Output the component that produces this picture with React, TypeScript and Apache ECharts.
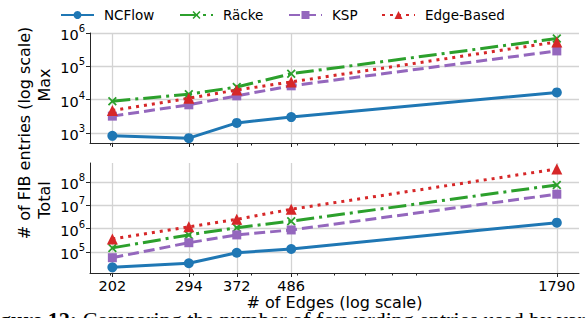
import React, { useEffect, useRef } from 'react';
import * as echarts from 'echarts';

const edges = [202, 294, 372, 486, 1790];
const xMinorTicks = [200, 300, 400, 500, 600, 700, 800, 900];
const seriesNames = ['NCFlow', 'Räcke', 'KSP', 'Edge-Based'];

const maxNCFlow = [820, 700, 2000, 3000, 16500];
const maxRacke = [9000, 14500, 24000, 60000, 680000];
const maxKSP = [3200, 7000, 13000, 26000, 290000];
const maxEdge = [4700, 11000, 19500, 34000, 540000];

const totNCFlow = [22000, 33000, 93000, 135000, 1800000];
const totRacke = [150000, 540000, 1100000, 2100000, 75000000];
const totKSP = [57000, 250000, 540000, 880000, 30000000];
const totEdge = [360000, 1200000, 2500000, 6800000, 360000000];

const topTicks = [1e3, 1e4, 1e5, 1e6];
const bottomTicks = [1e5, 1e6, 1e7, 1e8];

const FONT = 'DejaVu Sans';
const X_PATH =
  'path://M0,1.4L1.4,0L5,3.6L8.6,0L10,1.4L6.4,5L10,8.6L8.6,10L5,6.4L1.4,10L0,8.6L3.6,5Z';

const styles = [
  { color: '#1f77b4', dash: 'solid' as any, symbol: 'circle', size: 10 },
  { color: '#2ca02c', dash: [18, 5, 3, 5], symbol: X_PATH, size: 9 },
  { color: '#9467bd', dash: [11, 5], symbol: 'rect', size: 9 },
  { color: '#d62728', dash: [3, 5], symbol: 'triangle', size: 11 },
];
const legendLefts = [55, 174, 283, 376];

function mkSeries(idx: number, values: number[], grid: number) {
  const s = styles[idx];
  return {
    type: 'line',
    name: seriesNames[idx],
    xAxisIndex: grid,
    yAxisIndex: grid,
    data: edges.map((e, i) => [e, values[i]]),
    symbol: s.symbol,
    symbolSize: s.size,
    showSymbol: true,
    lineStyle: { color: s.color, width: 3, type: s.dash },
    itemStyle: { color: s.color },
    z: 3 + idx,
  };
}

const supFormatter = (v: number) => `{b|10}{s|${Math.round(Math.log10(v))}}`;
const supRich = {
  b: { fontSize: 14.5, fontFamily: FONT, color: '#000', lineHeight: 19, verticalAlign: 'bottom' },
  s: { fontSize: 10, fontFamily: FONT, color: '#000', lineHeight: 10, verticalAlign: 'top' },
};

const axisLineStyle = { color: '#262626', width: 1 };
const gridLine = { show: true, lineStyle: { color: '#d3d3d3', width: 1.3 } };

function xMajor(grid: number, showLabels: boolean) {
  return {
    type: 'log',
    gridIndex: grid,
    min: 181,
    max: 1996,
    position: 'bottom',
    axisLine: { show: true, lineStyle: axisLineStyle },
    axisTick: { show: true, customValues: edges, length: 4, inside: false, lineStyle: axisLineStyle },
    axisLabel: {
      show: showLabels,
      customValues: edges,
      margin: 5,
      fontSize: 14.5,
      fontFamily: FONT,
      color: '#000',
      formatter: (v: number) => String(Math.round(v)),
    },
    splitLine: gridLine,
    minorTick: { show: false },
    name: showLabels ? '# of Edges (log scale)' : '',
    nameLocation: 'middle',
    nameGap: 21,
    nameTextStyle: { fontSize: 16, fontFamily: FONT, color: '#000' },
  };
}

function xMinor(grid: number) {
  return {
    type: 'log',
    gridIndex: grid,
    min: 181,
    max: 1996,
    position: 'bottom',
    axisLine: { show: false },
    axisTick: { show: true, customValues: xMinorTicks, length: 2.5, lineStyle: axisLineStyle },
    axisLabel: { show: false, customValues: xMinorTicks },
    splitLine: { show: false },
  };
}

function yAxis(grid: number, min: number, max: number, ticks: number[]) {
  return {
    type: 'log',
    gridIndex: grid,
    min,
    max,
    axisLine: { show: true, lineStyle: axisLineStyle },
    axisTick: { show: true, customValues: ticks, length: 4, lineStyle: axisLineStyle },
    axisLabel: { customValues: ticks, formatter: supFormatter, rich: supRich, margin: 5 },
    splitLine: gridLine,
    minorTick: { show: false },
  };
}

export default function App() {
  const ref = useRef<HTMLDivElement>(null);
  useEffect(() => {
    if (!ref.current) return;
    const chart = echarts.init(ref.current, undefined, { renderer: 'svg' });
    const option: any = {
      animation: false,
      backgroundColor: '#fff',
      legend: seriesNames.map((n, i) => ({
        data: [n],
        left: legendLefts[i],
        top: 3,
        itemWidth: 33,
        itemHeight: 10,
        textStyle: { fontSize: 13.5, fontFamily: FONT, color: '#000', padding: [0, 0, 0, 5] },
      })),
      grid: [
        { left: 90, top: 33, width: 489, height: 110 },
        { left: 90, top: 163, width: 489, height: 110 },
      ],
      xAxis: [xMajor(0, false), xMajor(1, true), xMinor(0), xMinor(1)],
      yAxis: [yAxis(0, 500, 1e6, topTicks), yAxis(1, 12600, 6.5e8, bottomTicks)],
      series: [
        mkSeries(0, maxNCFlow, 0),
        mkSeries(1, maxRacke, 0),
        mkSeries(2, maxKSP, 0),
        mkSeries(3, maxEdge, 0),
        mkSeries(0, totNCFlow, 1),
        mkSeries(1, totRacke, 1),
        mkSeries(2, totKSP, 1),
        mkSeries(3, totEdge, 1),
      ],
      graphic: [
        {
          type: 'text',
          x: 24,
          y: 133,
          rotation: Math.PI / 2,
          style: { text: '# of FIB entries (log scale)', font: `16px "${FONT}"`, fill: '#000', align: 'center', verticalAlign: 'middle' },
        },
        {
          type: 'text',
          x: 44,
          y: 85,
          rotation: Math.PI / 2,
          style: { text: 'Max', font: `16px "${FONT}"`, fill: '#000', align: 'center', verticalAlign: 'middle' },
        },
        {
          type: 'text',
          x: 44,
          y: 200,
          rotation: Math.PI / 2,
          style: { text: 'Total', font: `16px "${FONT}"`, fill: '#000', align: 'center', verticalAlign: 'middle' },
        },
        {
          type: 'text',
          x: 0,
          y: 308,
          style: {
            text: '{b|gure 12:} {r|Comparing the number of forwarding entries used by var}',
            rich: {
              b: { fontFamily: 'Liberation Serif', fontSize: 22, fontWeight: 'bold', fill: '#000' },
              r: { fontFamily: 'Liberation Serif', fontSize: 22, fill: '#000' },
            },
            font: '22px "Liberation Serif"',
            fill: '#000',
            align: 'left',
            verticalAlign: 'top',
          },
        },
      ],
    };
    chart.setOption(option);
    return () => chart.dispose();
  }, []);
  return <div ref={ref} style={{ width: 586, height: 318, position: 'absolute', left: 0, top: 0 }} />;
}
